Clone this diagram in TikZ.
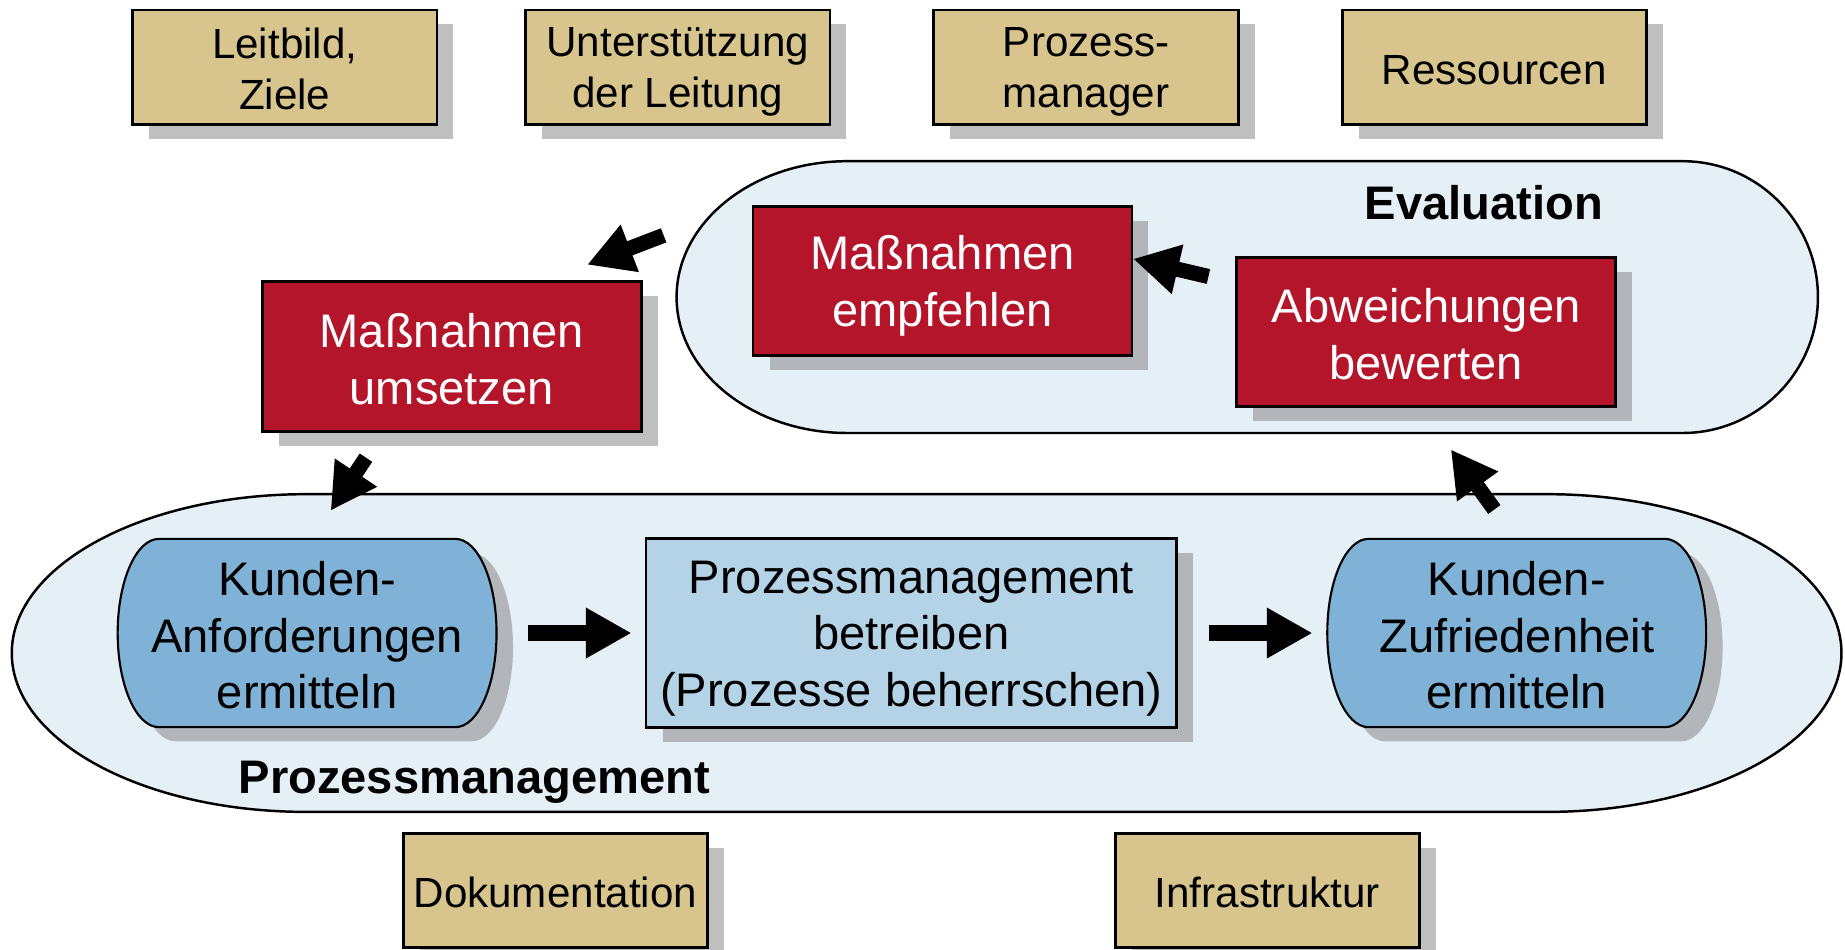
\documentclass[tikz,border=0pt]{standalone}
\usepackage{fontspec}
\setmainfont{Liberation Sans}
\usetikzlibrary{arrows.meta,shadows}

\definecolor{sable}{RGB}{215,197,141}
\definecolor{rouge}{RGB}{180,21,43}
\definecolor{bleu}{RGB}{127,178,214}
\definecolor{bleuclair}{RGB}{180,211,231}
\definecolor{fond}{RGB}{228,239,246}
\definecolor{ombre}{RGB}{191,191,191}
\definecolor{ombrebleu}{RGB}{178,182,187}

% meme hauteur pour toutes les lignes
\newcommand\hb{\rule[-0.1em]{0pt}{1.016em}}

\tikzset{
  ombrage/.style={drop shadow={shadow xshift=4.7pt,shadow yshift=-4.1pt,fill=#1,opacity=1}},
  texte/.style={align=center,inner sep=0pt},
  ressource/.style={texte,draw,line width=0.8pt,fill=sable,ombrage=ombre,
    minimum width=86.6pt,minimum height=32.5pt,font=\fontsize{12pt}{14.4pt}\selectfont},
  action/.style={texte,draw,line width=0.8pt,fill=rouge,text=white,
    minimum width=107.8pt,minimum height=42.5pt,font=\fontsize{13.4pt}{16.1pt}\selectfont},
  etape/.style={texte,minimum width=107.8pt,minimum height=53.6pt,
    font=\fontsize{13.4pt}{16.1pt}\selectfont},
  titre/.style={font=\fontsize{13.4pt}{16.1pt}\selectfont\bfseries,inner sep=0pt},
  zone/.style={draw,line width=0.7pt,fill=fond},
  grosse/.style={line width=4.3pt,-{Triangle[width=13.5pt,length=13pt]}}
}

% forme des deux etapes "Kunden-..."
\newcommand\kundenform[2]{%
  \begin{scope}[shift={(#1,#2)}]
    \fill[ombrebleu] (-112,68) -- (140,68) arc[start angle=90,end angle=-90,x radius=35,y radius=80]
      -- (-112,-92) arc[start angle=270,end angle=90,x radius=35,y radius=80] -- cycle;
    \filldraw[fill=bleu,line width=0.6pt] (-126,80) -- (126,80) arc[start angle=90,end angle=-90,x radius=35,y radius=80]
      -- (-126,-80) arc[start angle=270,end angle=90,x radius=35,y radius=80] -- cycle;
  \end{scope}}

\begin{document}
\begin{tikzpicture}[x=0.11767mm,y=0.11767mm]
  \useasboundingbox (0,0) rectangle (1568,807);
  \clip (0,0) rectangle (1568,807);

  % les deux zones
  \draw[zone] (720,670) -- (1430,670) arc[start angle=90,end angle=-90,x radius=115,y radius=115.5]
    -- (720,439) arc[start angle=270,end angle=90,x radius=145,y radius=115.5] -- cycle;
  \draw[zone] (260,387) -- (1315,387) arc[start angle=90,end angle=-90,x radius=250,y radius=135]
    -- (260,117) arc[start angle=270,end angle=90,x radius=250,y radius=135] -- cycle;
  \node[titre] (evaltitel) at (1261,635) {Evaluation};
  \node[titre] (pmtitel) at (403,142) {Prozessmanagement};

  % ressources
  \node[ressource] (leitbild) at (242,750) {\hb Leitbild,\\Ziele\hb};
  \node[ressource] (leitung) at (576,750) {\hb Unterstützung\\der Leitung\hb};
  \node[ressource] (manager) at (923,750) {\hb Prozess-\\manager\hb};
  \node[ressource] (ressourcen) at (1270,750) {\hb Ressourcen\hb};
  \node[ressource] (doku) at (472,50) {\hb Dokumentation\hb};
  \node[ressource] (infra) at (1077,50) {\hb Infrastruktur\hb};

  % evaluation
  \node[action,ombrage=ombre] (mumsetzen) at (384,504) {\hb Maßnahmen\\umsetzen\hb};
  \node[action,ombrage=ombrebleu] (mempfehlen) at (801,568) {\hb Maßnahmen\\empfehlen\hb};
  \node[action,ombrage=ombrebleu] (abweichung) at (1212,525) {\hb Abweichungen\\bewerten\hb};

  % prozessmanagement
  \kundenform{261}{269}
  \node[etape] (ka) at (261,269) {\hb Kunden-\\Anforderungen\\ermitteln\hb};
  \node[etape,draw,line width=0.8pt,fill=bleuclair,ombrage=ombrebleu,minimum width=151pt] (pb) at (774.5,269)
    {\hb Prozessmanagement\\betreiben\\(Prozesse beherrschen)\hb};
  \kundenform{1289}{269}
  \node[etape] (kz) at (1289,269) {\hb Kunden-\\Zufriedenheit\\ermitteln\hb};

  % fleches
  \coordinate (a3) at (1270,374);
  \coordinate (b3) at (1233,425);
  \coordinate (a4) at (1027,572);
  \coordinate (b4) at (963,587);
  \coordinate (a5) at (564,607);
  \coordinate (b5) at (499,582);
  \coordinate (a6) at (311,418);
  \coordinate (b6) at (281,373);
  \draw[grosse,shorten <=8.7pt,shorten >=3.7pt] (ka.east) -- (pb.west);
  \draw[grosse,shorten <=8.7pt,shorten >=4pt] (pb.east) -- (kz.west);
  \draw[grosse] (a3) -- (b3);
  \draw[grosse] (a4) -- (b4);
  \draw[grosse] (a5) -- (b5);
  \draw[grosse] (a6) -- (b6);
\end{tikzpicture}
\end{document}
